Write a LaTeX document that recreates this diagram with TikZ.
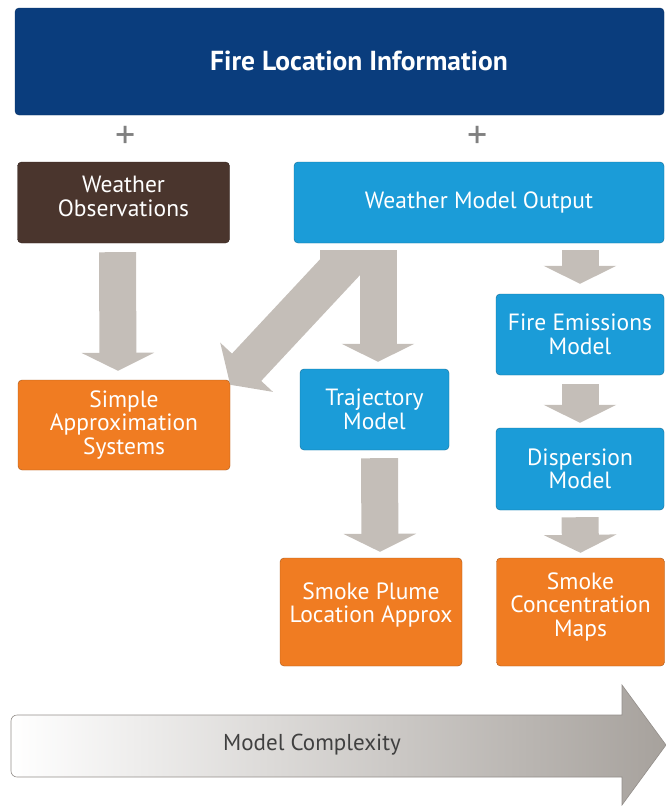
\documentclass[tikz,border=0pt]{standalone}
\usepackage{fontspec}
\setmainfont{PT Sans}
\usepackage{tikz}
\usetikzlibrary{arrows.meta, positioning, calc}

\definecolor{navy}{RGB}{10,61,125}
\definecolor{bark}{RGB}{74,53,45}
\definecolor{sky}{RGB}{27,156,216}
\definecolor{amber}{RGB}{240,124,34}
\definecolor{stone}{RGB}{196,190,184}

\tikzset{
  box/.style={rectangle, rounded corners=4pt, text=white, align=center,
    font=\fontsize{23.5}{23.5}\selectfont, inner sep=2pt},
  navybox/.style={box, fill=navy, draw=navy!80!black},
  barkbox/.style={box, fill=bark, draw=bark!70!black},
  skybox/.style={box, fill=sky, draw=sky!70!black},
  amberbox/.style={box, fill=amber, draw=amber!70!black},
  fatarrow/.style={draw=stone, line width=37pt, -{Triangle[width=72pt,length=18pt]}},
  plus/.style={text=black!50, font=\fontsize{40}{40}\selectfont},
}

\begin{document}
\begin{tikzpicture}[x=1pt, y=-1pt]
\useasboundingbox (0,0) rectangle (666,806);

% Inputs
\node[navybox, minimum width=649pt, minimum height=107pt] (fire) at (339.5,61.5) {};
\node[text=white, font=\bfseries\fontsize{27.5}{30}\selectfont] (firetext) at (359,61) {Fire Location Information};
\node[plus] (plusL) at (126,137) {+};
\node[plus] (plusR) at (478,137) {+};
\node[barkbox, minimum width=212pt, minimum height=81pt, text depth=12pt] (wobs) at (123.5,202.5) {Weather\\Observations};
\node[skybox, minimum width=370pt, minimum height=81pt] (wmo) at (479,202.5) {Weather Model Output};

% Models and products
\node[amberbox, minimum width=212pt, minimum height=90pt] (simple) at (124,425) {Simple\\Approximation\\Systems};
\node[skybox, minimum width=149pt, minimum height=81pt] (traj) at (374.5,409.5) {Trajectory\\Model};
\node[skybox, minimum width=168pt, minimum height=81pt] (fem) at (580,334.5) {Fire Emissions\\Model};
\node[skybox, minimum width=168pt, minimum height=82pt] (disp) at (580,469) {Dispersion\\Model};
\node[amberbox, minimum width=182pt, minimum height=108pt, text depth=19pt] (plume) at (371,612) {Smoke Plume\\Location Approx};
\node[amberbox, minimum width=168pt, minimum height=108pt, text depth=15pt] (conc) at (580.5,612) {Smoke\\Concentration\\Maps};

% Block arrows
\draw[fatarrow, shorten <=9pt, shorten >=9pt] ([xshift=-6pt]wobs.south) -- ([xshift=-6pt]simple.north);
\draw[fatarrow, line width=40pt, -{Triangle[width=71pt,length=24pt]}]
  ($(wmo.south)+(-139,7)$) -- ++(0,17) -- ($(simple.north east)+(0,5)$);
\draw[fatarrow, shorten <=7pt, shorten >=7pt] ($(traj.north |- wmo.south)+(3.5,0)$) -- ($(traj.north)+(3.5,0)$);
\draw[fatarrow, shorten <=8pt, shorten >=6pt] ($(traj.south)+(5,0)$) -- ($(plume.north)+(9,0)$);
\draw[fatarrow, shorten <=7pt, shorten >=10pt] (fem.north |- wmo.south) -- (fem.north);
\draw[fatarrow, shorten <=9pt, shorten >=5pt] (fem.south) -- (disp.north);
\draw[fatarrow, shorten <=7pt, shorten >=5pt] (disp.south) -- (conc.north);

% Complexity arrow
\shade[left color=white, right color=stone!85!black, draw=stone!75!black, line width=0.6pt]
  (300,715) -- (622,715) -- (622,685) -- (666,745) -- (622,805) -- (622,777)
  [rounded corners=6pt] -- (11,777) -- (11,715) -- cycle;
\node[text=black!75, font=\fontsize{23}{26}\selectfont] (complexity) at (312,745) {Model Complexity};
\end{tikzpicture}
\end{document}
